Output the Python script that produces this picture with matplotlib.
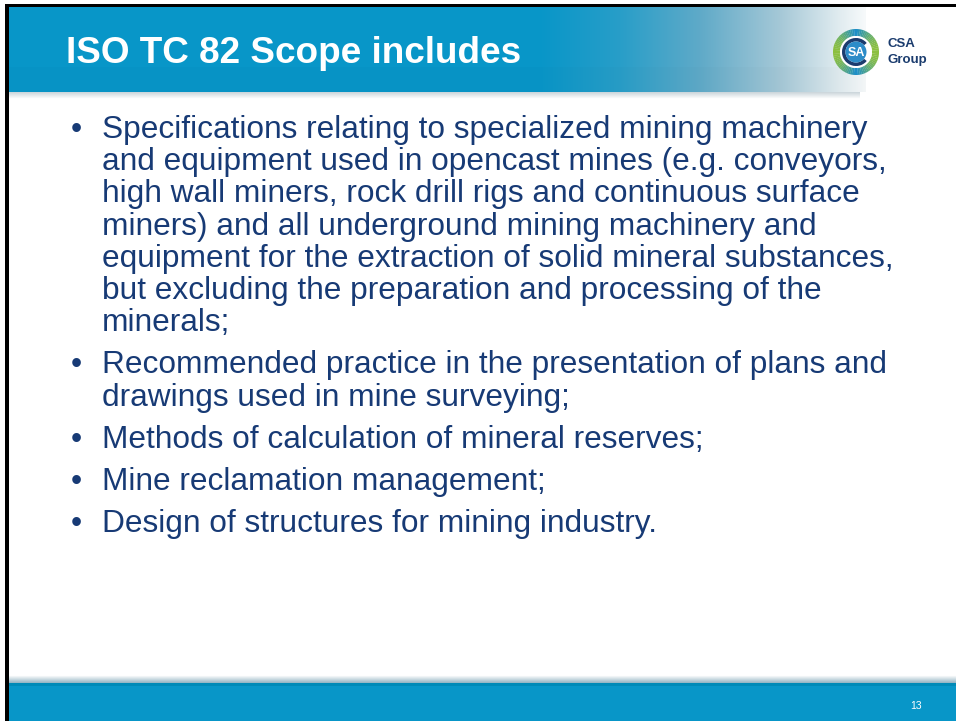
import numpy as np
import matplotlib
matplotlib.use("Agg")
import matplotlib.pyplot as plt
from matplotlib.patches import Rectangle, Wedge, Circle

# ---- content ----
title = "ISO TC 82 Scope includes"
bullets = [
    ["Specifications relating to specialized mining machinery",
     "and equipment used in opencast mines (e.g. conveyors,",
     "high wall miners, rock drill rigs and continuous surface",
     "miners) and all underground mining machinery and",
     "equipment for the extraction of solid mineral substances,",
     "but excluding the preparation and processing of the",
     "minerals;"],
    ["Recommended practice in the presentation of plans and",
     "drawings used in mine surveying;"],
    ["Methods of calculation of mineral reserves;"],
    ["Mine reclamation management;"],
    ["Design of structures for mining industry."],
]
logo_words = ["CSA", "Group"]
page_number = "13"

W, H = 956, 721
fig = plt.figure(figsize=(W / 100, H / 100), dpi=100)
ax = fig.add_axes([0, 0, 1, 1])
ax.set_xlim(0, W)
ax.set_ylim(H, 0)
ax.axis("off")
fig.patch.set_facecolor("white")

FONT = "Liberation Sans"
NAVY = "#173A75"
BLUE = np.array([8, 150, 200]) / 255.0

# ---- header gradient ----
hx0, hx1, hy0, hy1 = 9, W, 7, 92
xs = np.arange(hx0, hx1) + 0.5
stops_x = [0, 540, 620, 700, 780, 840, 875, 2000]
stops_c = [BLUE * 255, BLUE * 255, (40, 158, 200), (95, 170, 200),
           (165, 200, 215), (225, 236, 240), (255, 255, 255), (255, 255, 255)]
stops_c = np.array(stops_c, dtype=float) / 255.0
row = np.stack([np.interp(xs, stops_x, stops_c[:, k]) for k in range(3)], axis=1)
ys = np.arange(hy0, hy1) + 0.5
vshade = np.where(ys < 67, 1.0, 0.985)[:, None, None]
img = row[None, :, :] * vshade
white = np.ones_like(img)
mix = (row[None, :, :] > 0.97).all(axis=2, keepdims=True)
img = np.where(mix, white, img)
ax.imshow(np.clip(img, 0, 1), extent=(hx0, hx1, hy1, hy0), aspect="auto",
          interpolation="bilinear", zorder=1)

# header shadow
sh = np.linspace(0, 1, 8)
shade = np.array([0.80, 0.84, 0.86])[None, :] * (1 - sh[:, None]) + sh[:, None]
shade_img = np.repeat(shade[:, None, :], 2, axis=1)
ax.imshow(shade_img, extent=(hx0, 860, hy1 + 7, hy1), aspect="auto",
          interpolation="bilinear", zorder=1)

# ---- footer ----
fy0 = 683
ax.add_patch(Rectangle((hx0, fy0), W - hx0, H - fy0, color=BLUE, lw=0, zorder=1))
sh2 = np.linspace(0, 1, 8)
shade2 = np.array([1, 1, 1])[None, :] * (1 - sh2[:, None]) + np.array([0.6, 0.72, 0.78])[None, :] * sh2[:, None]
ax.imshow(np.repeat(shade2[:, None, :], 2, axis=1), extent=(hx0, W, fy0, fy0 - 8),
          aspect="auto", interpolation="bilinear", zorder=1)
ax.add_patch(Rectangle((hx0, fy0), W - hx0, 3, color=(0.0, 0.54, 0.72), lw=0, zorder=2))

# ---- borders ----
ax.add_patch(Rectangle((5, 4), 4, H - 4, color="black", lw=0, zorder=5))
ax.add_patch(Rectangle((5, 4), W - 5, 3, color="black", lw=0, zorder=5))

# ---- title ----
ax.text(66, 63, title, fontsize=26.6, fontweight="bold", color="white",
        family=FONT, va="baseline", ha="left", zorder=3)

# ---- logo ----
cx, cy = 856, 52
n = 72
for i in range(n):
    a0 = 360 * i / n
    a1 = 360 * (i + 1) / n + 0.5
    am = np.deg2rad((a0 + a1) / 2)
    t = abs(np.cos(am))
    col = np.array([0.10, 0.55, 0.80]) * (1 - t) + np.array([0.55, 0.75, 0.25]) * t
    ax.add_patch(Wedge((cx, cy), 23, a0, a1, width=7, color=col, lw=0, zorder=3))
ax.add_patch(Circle((cx, cy), 16, color="white", lw=0, zorder=3))
ax.add_patch(Wedge((cx, cy), 14, 40, 320, width=3.5, color="#1B3C6E", lw=0, zorder=4))
ax.add_patch(Circle((cx, cy), 10.5, color="#2C8CC8", lw=0, zorder=4))
ax.text(cx, cy + 1, "SA", fontsize=9, fontweight="bold", color="white",
        family=FONT, ha="center", va="center", zorder=5)
for k, wtxt in enumerate(logo_words):
    ax.text(888, 47 + 16 * k, wtxt, fontsize=9.5, fontweight="bold", color="#1B3C6E",
            family=FONT, ha="left", va="baseline", zorder=3)

# ---- bullets ----
BODY = 22.8
line_h = 32.2
gap = 10
y = 138
for lines in bullets:
    ax.text(76, y, "\u2022", fontsize=BODY, color=NAVY, family=FONT,
            ha="center", va="baseline", zorder=3)
    for ln in lines:
        ax.text(102, y, ln, fontsize=BODY, color=NAVY, family=FONT,
                ha="left", va="baseline", zorder=3)
        y += line_h
    y += gap

# ---- page number ----
ax.text(916, 709, page_number, fontsize=7.5, color="white", family=FONT,
        ha="center", va="baseline", zorder=3)

fig.savefig("out.png", dpi=100, facecolor="white")
